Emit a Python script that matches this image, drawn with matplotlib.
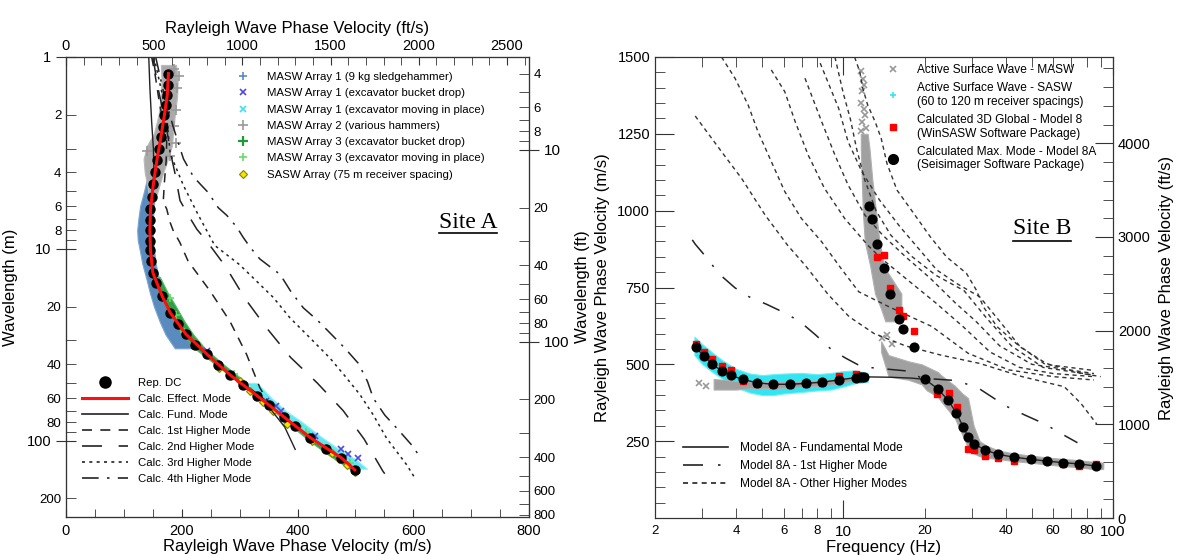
import matplotlib
matplotlib.use('Agg')
import matplotlib.pyplot as plt
from matplotlib.ticker import FixedLocator, FuncFormatter
from matplotlib.lines import Line2D

plt.rcParams['font.family'] = ['Liberation Sans', 'DejaVu Sans']

FT = 3.28084
W, H = 1186, 556

# ======================= Site A (left) data =======================
dc_lam = [1.22, 1.40, 1.58, 1.78, 2.01, 2.32, 2.61, 3.0, 3.46, 3.99, 4.59, 5.40, 6.2, 7.1, 8.0, 9.1,
          10.2, 11.6, 13.3, 15.0, 17.6, 21.5, 24.6, 27.8, 31.6, 35.3, 40.2, 45.3, 51.2, 58.2, 65, 75,
          84.3, 96.4, 110, 123, 142]
dc_vel = [177, 176, 175, 173, 170, 167, 164, 160, 157, 154, 151, 148, 146, 145, 145, 145,
          146, 147, 150, 155, 166, 180, 193, 207, 223, 243, 263, 283, 306, 330, 351, 376,
          396, 422, 450, 476, 499]

eff_lam = [1.22, 1.58, 2.01, 2.61, 3.46, 4.59, 6.2, 8.0, 10.2, 13.3, 17.6, 21.5, 27.8, 35.3, 45.3,
           58.2, 75, 96.4, 123, 142]
eff_vel = [177, 175, 170, 164, 157, 151, 146, 145, 146, 150, 166, 180, 207, 243, 283,
           330, 376, 422, 476, 499]

fund_lam = [1.0, 1.46, 2.18, 3.0, 4.0, 5.4, 7.1, 10.2, 13.3, 17.6, 24.6, 31.6, 40.2, 51.2, 58, 70, 85, 111]
fund_vel = [143, 145, 148, 151, 152, 148, 145, 146, 150, 166, 193, 223, 263, 306, 336, 356, 378, 396]

h1_lam = [1.0, 1.24, 1.78, 2.18, 2.78, 3.5, 4.5, 5.7, 6.2, 7.3, 8.0, 9.3, 11.6, 16.6, 23.8, 35.5, 53,
          65, 75, 84.3, 96.4, 110, 123, 148]
h1_vel = [148, 154, 162, 168, 174, 173, 170, 168, 174, 180, 185, 197, 211, 249, 283, 312, 335,
          352, 376, 396, 422, 450, 476, 508]

h2_lam = [1.0, 1.5, 2.2, 3.3, 4.0, 5.6, 6.5, 7.9, 9.1, 12.4, 18.1, 25.7, 36.8, 50, 69.8, 98, 145, 157]
h2_vel = [150, 160, 172, 182, 188, 197, 209, 226, 243, 276, 309, 346, 388, 434, 479, 515, 548, 557]

h3_lam = [1.0, 1.5, 2.2, 3.19, 4.68, 6.7, 9.6, 12.1, 17.9, 22.9, 29.2, 37.1, 47.2, 57.6, 73.5, 97.2, 134, 157]
h3_vel = [152, 165, 175, 180, 203, 229, 257, 300, 358, 387, 422, 456, 485, 508, 531, 554, 589, 603]

h4_lam = [1.0, 1.5, 2.3, 3.4, 4.2, 4.6, 5.1, 6.1, 6.7, 7.7, 8.7, 9.8, 11.3, 13.6, 16.6, 20.3, 23.5,
          28.0, 33.0, 39.5, 49.2, 60.1, 73.7, 87.7, 106, 116]
h4_vel = [155, 168, 185, 203, 220, 232, 246, 263, 278, 295, 306, 318, 335, 370, 388, 410, 434,
          459, 482, 505, 521, 531, 551, 574, 598, 607]

# data clouds (extent of the dense scatter)
m1_lam = [4.3, 5.0, 6.0, 7.0, 8.0, 9.0, 10.0, 12.0, 14.0, 17.0, 20.0, 24.0, 28.0, 33.0]
m1_vlo = [140, 135, 128, 125, 123, 124, 127, 132, 138, 145, 152, 162, 172, 188]
m1_vhi = [152, 153, 152, 150, 150, 150, 152, 155, 160, 170, 183, 197, 212, 230]

m2_lam = [1.1, 1.3, 1.6, 2.0, 2.5, 2.9, 3.4, 4.0, 4.6, 5.2]
m2_vlo = [164, 165, 164, 160, 152, 140, 134, 136, 140, 143]
m2_vhi = [190, 193, 192, 188, 185, 183, 176, 168, 162, 157]

m3_lam = [14, 17, 20, 24, 28, 33, 40, 48, 58, 70, 85, 100, 120, 140]
m3_vlo = [150, 162, 172, 188, 202, 222, 258, 292, 326, 358, 392, 420, 456, 490]
m3_vhi = [162, 176, 190, 205, 220, 240, 272, 305, 340, 372, 408, 438, 478, 508]

m1c_lam = [50, 60, 70, 80, 95, 110, 125, 140]
m1c_vlo = [312, 335, 360, 385, 418, 448, 476, 498]
m1c_vhi = [330, 355, 380, 408, 440, 470, 500, 520]

m1b_lam = [34, 62, 66, 70, 95, 111, 118, 123]
m1b_vel = [243, 345, 362, 372, 430, 476, 488, 505]

m3b_lam = [18, 22, 27, 45, 90, 130]
m3b_vel = [180, 190, 204, 290, 415, 490]

m2x_lam = [1.15, 1.25, 1.45, 1.9, 2.3, 2.8, 3.3, 3.1]
m2x_vel = [186, 195, 192, 190, 186, 190, 180, 140]

sasw_lam = [42, 49, 55, 63, 70, 82, 84, 100, 116, 125, 134, 146]
sasw_vel = [265, 301, 318, 340, 357, 381, 399, 425, 459, 472, 485, 499]

# ======================= Site B (right) data =======================
mm_f = [2.83, 3.04, 3.26, 3.53, 3.83, 4.23, 4.79, 5.46, 6.32, 7.26, 8.32, 9.6, 11.1, 11.5, 11.7, 11.9,
        12.4, 12.8, 13.3, 14.1, 14.9, 16.1, 16.6, 18.3,
        20.1, 22.4, 24.4, 26.2, 27.8, 29.0, 30.5, 33.6, 37.5, 42.9, 49.6, 57.1, 65.4, 74.8, 86.6]
mm_v = [555, 527, 501, 479, 464, 451, 440, 435, 435, 438, 442, 449, 457, 458, 459, 460,
        1015, 973, 893, 815, 729, 647, 614, 555,
        451, 420, 384, 343, 297, 265, 241, 221, 207, 198, 191, 185, 180, 176, 169]

g3d_f = [2.83, 3.04, 3.26, 3.53, 3.83, 4.23, 4.79, 5.46, 6.32, 7.26, 8.32, 9.6, 11.1,
         13.3, 14.1, 14.9, 16.1, 16.6, 18.3,
         22.3, 24.6, 26.3, 29.0, 30.5, 33.6, 37.3, 42.9, 65.4, 74.8, 86.6]
g3d_v = [566, 540, 516, 496, 482, 446, 435, 433, 432, 435, 440, 462, 469,
         848, 856, 749, 677, 658, 609,
         402, 408, 360, 225, 220, 203, 194, 184, 176, 169, 176]

fm_f = [2.83, 3.04, 3.26, 3.53, 3.83, 4.23, 4.79, 5.46, 6.32, 7.26, 8.32, 9.6, 11.1, 12.5, 15, 18,
        20.1, 22.4, 24.4, 26.2, 27.8, 29.0, 30.5, 33.6, 37.5, 42.9, 49.6, 57.1, 65.4, 74.8, 86.6]
fm_v = [555, 527, 501, 479, 464, 451, 440, 435, 435, 438, 442, 449, 457, 459, 458, 455,
        451, 420, 384, 343, 297, 265, 241, 221, 207, 198, 191, 185, 180, 176, 169]

hm1_f = [2.75, 2.82, 3.11, 3.46, 3.96, 4.46, 5.2, 6.1, 6.9, 7.9, 9.0, 10.2, 11.7, 14.3, 17.4, 19.5,
         26.5, 32, 36.1, 40.1, 47.1, 55.8, 63.8, 73.8]
hm1_v = [905, 891, 847, 794, 749, 720, 695, 666, 639, 595, 549, 520, 492, 485, 478, 455,
         447, 420, 390, 364, 335, 306, 276, 245]

oh_curves = [
    ([2.82, 3.53, 4.19, 5.12, 6.2, 7.2, 8.8, 10.5, 13, 17, 23, 32, 46, 66, 76, 87],
     [1308, 1192, 1105, 986, 888, 823, 726, 655, 600, 560, 530, 503, 460, 427, 373, 306]),
    ([3.53, 3.96, 4.43, 4.82, 5.4, 6.06, 6.98, 8.3, 9.8, 11.4, 14.7, 21.3, 29, 41, 60, 85],
     [1500, 1431, 1344, 1257, 1160, 1062, 975, 899, 812, 736, 688, 623, 536, 482, 460, 449]),
    ([5.4, 6.06, 6.62, 7.4, 8.5, 10.1, 12.3, 13.8, 17, 22, 28, 35, 45, 60, 85],
     [1458, 1387, 1290, 1181, 1073, 975, 888, 845, 780, 700, 620, 540, 490, 470, 460]),
    ([7.2, 8.3, 9.3, 10.4, 12.0, 14, 17, 21, 26, 31, 38, 50, 85],
     [1431, 1290, 1181, 1084, 986, 920, 850, 780, 700, 640, 560, 500, 470]),
    ([8.2, 9.6, 10.4, 11.7, 13.6, 16.2, 19.2, 22.2, 26.2, 32, 38, 45, 56, 85],
     [1480, 1333, 1225, 1127, 1035, 948, 872, 807, 764, 720, 640, 560, 500, 480]),
    ([9.3, 10, 10.6, 11.2, 12, 13.2, 15, 18, 22, 28, 34, 42, 55, 85],
     [1500, 1380, 1300, 1200, 1100, 1000, 920, 850, 790, 740, 650, 560, 490, 465]),
    ([11.0, 11.5, 11.8, 12.3, 13.1, 13.8, 14.5, 15.8, 18.2, 21.0, 24.1, 28.6, 31.1, 33.0, 37.1, 45.2,
      56.5, 75.6, 90],
     [1500, 1452, 1398, 1344, 1290, 1236, 1154, 1067, 992, 915, 850, 796, 742, 688, 623, 557,
      503, 471, 460]),
]

sasw_f = [2.8, 3.0, 3.3, 3.6, 4.0, 4.5, 5.0, 5.5, 6.0, 7.0, 8.0, 9.0, 10.0, 11.0, 12.3]
sasw_vlo = [530, 500, 472, 450, 425, 408, 400, 400, 405, 410, 415, 418, 428, 438, 443]
sasw_vhi = [590, 565, 535, 510, 485, 470, 465, 468, 470, 472, 468, 472, 478, 480, 472]

maswL_f = [3.3, 3.6, 4.0, 4.5, 5, 6, 7, 8, 9, 10, 11, 12.3]
maswL_vlo = [418, 418, 418, 422, 422, 424, 427, 430, 434, 442, 447, 450]
maswL_vhi = [452, 450, 446, 444, 444, 444, 446, 448, 452, 458, 461, 461]

maswU_v = [1250, 1200, 1100, 1000, 900, 815, 730, 680, 640]
maswU_flo = [11.6, 11.6, 11.7, 11.8, 12.0, 12.6, 13.1, 13.8, 14.3]
maswU_fhi = [12.3, 12.5, 12.8, 13.2, 13.6, 14.2, 16.4, 16.4, 16.0]

maswR_f = [13.8, 14.7, 17.4, 19.5, 20.4, 22.4, 23.0, 25.9, 27.6, 29.0, 30.4, 32, 34, 37.5, 42.9,
           49.6, 57.1, 65.4, 74.8, 86.6, 92]
maswR_vhi = [575, 530, 510, 500, 492, 475, 465, 430, 405, 390, 300, 250, 235, 220, 210,
             203, 197, 192, 188, 182, 180]
maswR_vlo = [540, 460, 450, 435, 415, 395, 380, 325, 271, 228, 210, 201, 196, 192, 185,
             180, 174, 169, 165, 158, 160]

maswX_f = [11.6, 11.8, 11.9, 11.7, 11.6, 11.9, 12.0, 11.7, 12.1, 11.6, 13.9, 14.5, 15.2, 2.9, 3.1]
maswX_v = [1455, 1430, 1410, 1390, 1350, 1330, 1310, 1290, 1270, 1260, 585, 595, 565, 440, 430]

# ======================= figure =======================
fig = plt.figure(figsize=(W / 100, H / 100), dpi=100)
spine_col = '#333333'
line_col = '#222222'


def px_axes(x0, y0, x1, y1):
    return fig.add_axes([x0 / W, 1 - y1 / H, (x1 - x0) / W, (y1 - y0) / H])


# ---------------- Left panel ----------------
axL = px_axes(66, 57, 529, 517)
axL.set_yscale('log')
axL.set_xlim(0, 800)
axL.set_ylim(250, 1)

axL.fill_betweenx(m1_lam, m1_vlo, m1_vhi, color='#5a8bbf', lw=0.8, ec='#7aa3cc', zorder=2)
axL.fill_betweenx(m2_lam, m2_vlo, m2_vhi, color='#aaaaaa', lw=0.8, ec='#bbbbbb', zorder=2)
axL.fill_betweenx(m3_lam, m3_vlo, m3_vhi, color='#2e9e47', lw=0.8, ec='#55b866', zorder=2)
axL.fill_betweenx(m1c_lam, m1c_vlo, m1c_vhi, color='#5fe8f0', lw=0.8, ec='#8ff0f5', zorder=2)
axL.plot(m2x_vel, m2x_lam, '+', color='#999999', ms=7, mew=1.2, zorder=3)
axL.plot(m1b_vel, m1b_lam, 'x', color='#4a4ae0', ms=5, mew=1.2, zorder=3)
axL.plot(m3b_vel, m3b_lam, '+', color='#66dd66', ms=6, mew=1.2, zorder=3)
axL.plot(sasw_vel, sasw_lam, 'D', color='#f2e600', mec='#8a8000', ms=4.5, mew=0.8, zorder=3)

axL.plot(fund_vel, fund_lam, '-', color=line_col, lw=1.0, zorder=4)
axL.plot(h1_vel, h1_lam, color=line_col, lw=1.1, ls=(0, (6, 5)), zorder=4)
axL.plot(h2_vel, h2_lam, color=line_col, lw=1.1, ls=(0, (12, 10)), zorder=4)
axL.plot(h3_vel, h3_lam, color=line_col, lw=1.1, ls=(0, (1.8, 2.6)), zorder=4)
axL.plot(h4_vel, h4_lam, color=line_col, lw=1.1, ls=(0, (10, 5, 1.5, 5)), zorder=4)
axL.plot(dc_vel, dc_lam, 'o', color='black', ms=6.5, zorder=5)
axL.plot(eff_vel, eff_lam, '-', color='#ff1010', lw=2.2, zorder=6)

axL.xaxis.set_major_locator(FixedLocator([0, 200, 400, 600, 800]))
axL.xaxis.set_minor_locator(FixedLocator(list(range(0, 801, 50))))
axL.yaxis.set_major_locator(FixedLocator([1, 10, 100]))
axL.yaxis.set_minor_locator(FixedLocator([2, 3, 4, 5, 6, 7, 8, 9, 20, 30, 40, 50, 60, 70, 80, 90, 200]))
axL.yaxis.set_major_formatter(FuncFormatter(lambda v, p: '%g' % v))
axL.yaxis.set_minor_formatter(FuncFormatter(
    lambda v, p: ('%g' % v) if round(v) in (2, 4, 6, 8, 20, 40, 60, 80, 200) else ''))
axL.tick_params(axis='x', which='both', direction='in', length=6, top=False, labelsize=10.5,
                color=spine_col, pad=5)
axL.tick_params(axis='y', which='major', direction='inout', length=14, right=False, labelsize=10.5,
                color=spine_col)
axL.tick_params(axis='y', which='minor', direction='in', length=7, right=False, labelsize=9.5,
                color=spine_col)
axL.set_xlabel('Rayleigh Wave Phase Velocity (m/s)', fontsize=12, labelpad=1)
axL.set_ylabel('Wavelength (m)', fontsize=12, labelpad=6)

axLt = axL.twiny()
axLt.set_xlim(0, 800 * FT)
axLt.xaxis.set_major_locator(FixedLocator([0, 500, 1000, 1500, 2000, 2500]))
axLt.xaxis.set_minor_locator(FixedLocator(list(range(0, 2601, 100))))
axLt.tick_params(axis='x', which='both', direction='in', length=6, labelsize=10.5, color=spine_col, pad=3)
axLt.set_xlabel('Rayleigh Wave Phase Velocity (ft/s)', fontsize=12, labelpad=4)

axLr = axL.twinx()
axLr.set_yscale('log')
axLr.set_ylim(250 * FT, 1 * FT)
axLr.yaxis.set_major_locator(FixedLocator([10, 100]))
axLr.yaxis.set_minor_locator(FixedLocator([4, 5, 6, 7, 8, 9, 20, 30, 40, 50, 60, 70, 80, 90,
                                           200, 300, 400, 500, 600, 700, 800]))
axLr.yaxis.set_major_formatter(FuncFormatter(lambda v, p: '%g' % v))
axLr.yaxis.set_minor_formatter(FuncFormatter(
    lambda v, p: ('%g' % v) if round(v) in (4, 6, 8, 20, 40, 60, 80, 200, 400, 600, 800) else ''))
axLr.tick_params(axis='y', which='major', direction='inout', length=14, labelsize=11, color=spine_col)
axLr.tick_params(axis='y', which='minor', direction='in', length=7, labelsize=9.5, color=spine_col)
axLr.set_ylabel('Wavelength (ft)', fontsize=12, labelpad=4)

for a in (axL, axLt, axLr):
    for s in a.spines.values():
        s.set_color(spine_col)

hA = [Line2D([], [], ls='none', marker='+', color='#5a8bbf', ms=6, mew=1.2),
      Line2D([], [], ls='none', marker='x', color='#4a4ae0', ms=5, mew=1.2),
      Line2D([], [], ls='none', marker='x', color='#40e0f0', ms=5, mew=1.2),
      Line2D([], [], ls='none', marker='+', color='#999999', ms=7, mew=1.2),
      Line2D([], [], ls='none', marker='+', color='#1f9a3a', ms=7, mew=1.6),
      Line2D([], [], ls='none', marker='+', color='#66dd66', ms=6, mew=1.2),
      Line2D([], [], ls='none', marker='D', color='#f2e600', mec='#8a8000', ms=4.5, mew=0.8)]
lA = ['MASW Array 1 (9 kg sledgehammer)', 'MASW Array 1 (excavator bucket drop)',
      'MASW Array 1 (excavator moving in place)', 'MASW Array 2 (various hammers)',
      'MASW Array 3 (excavator bucket drop)', 'MASW Array 3 (excavator moving in place)',
      'SASW Array (75 m receiver spacing)']
legA = axL.legend(hA, lA, loc='upper left', bbox_to_anchor=(237 / W, 1 - 72 / H),
                  bbox_transform=fig.transFigure, frameon=False, fontsize=8.2, borderpad=0,
                  borderaxespad=0, handlelength=1.0, handletextpad=1.6, labelspacing=0.55)
axL.add_artist(legA)

hA2 = [Line2D([], [], ls='none', marker='o', color='black', ms=8),
       Line2D([], [], color='#ff1010', lw=2.2),
       Line2D([], [], color=line_col, lw=1.2),
       Line2D([], [], color=line_col, lw=1.2, ls=(0, (6, 5))),
       Line2D([], [], color=line_col, lw=1.2, ls=(0, (12, 10))),
       Line2D([], [], color=line_col, lw=1.2, ls=(0, (1.8, 2.6))),
       Line2D([], [], color=line_col, lw=1.2, ls=(0, (10, 5, 1.5, 5)))]
lA2 = ['Rep. DC', 'Calc. Effect. Mode', 'Calc. Fund. Mode', 'Calc. 1st Higher Mode',
       'Calc. 2nd Higher Mode', 'Calc. 3rd Higher Mode', 'Calc. 4th Higher Mode']
axL.legend(hA2, lA2, loc='upper left', bbox_to_anchor=(82 / W, 1 - 378 / H),
           bbox_transform=fig.transFigure, frameon=False, fontsize=8.2, borderpad=0,
           borderaxespad=0, handlelength=4.0, handletextpad=0.9, labelspacing=0.52)

tA = fig.text(468 / W, 1 - 222 / H, 'Site A', family=['Liberation Serif', 'DejaVu Serif'],
              fontsize=17, ha='center', va='center')

# ---------------- Right panel ----------------
axR = px_axes(655, 57, 1113, 518)
axR.set_xscale('log')
axR.set_xlim(2, 100)
axR.set_ylim(0, 1500)

axR.fill_between(sasw_f, sasw_vlo, sasw_vhi, color='#33e5f0', lw=0.8, ec='#70eef5', zorder=2)
axR.fill_between(maswL_f, maswL_vlo, maswL_vhi, color='#a0a0a0', lw=0.8, ec='#b0b0b0', zorder=2.5)
axR.fill_betweenx(maswU_v, maswU_flo, maswU_fhi, color='#a0a0a0', lw=0.8, ec='#b0b0b0', zorder=2.5)
axR.fill_between(maswR_f, maswR_vlo, maswR_vhi, color='#a0a0a0', lw=0.8, ec='#b0b0b0', zorder=2.5)
axR.plot(maswX_f, maswX_v, 'x', color='#999999', ms=5, mew=1.2, zorder=2.5)

for fx, vx in oh_curves:
    axR.plot(fx, vx, color='#333333', lw=1.0, ls=(0, (3, 2.6)), zorder=3)
axR.plot(hm1_f, hm1_v, color=line_col, lw=1.1, ls=(0, (12, 9, 1.5, 9)), zorder=3)
axR.plot(fm_f, fm_v, '-', color=line_col, lw=1.0, zorder=4)
axR.plot(g3d_f, g3d_v, 's', color='#ff0000', ms=5, zorder=5)
axR.plot(mm_f, mm_v, 'o', color='black', ms=6.3, zorder=6)

axR.xaxis.set_major_locator(FixedLocator([10, 100]))
axR.xaxis.set_minor_locator(FixedLocator([2, 3, 4, 5, 6, 7, 8, 9, 20, 30, 40, 50, 60, 70, 80, 90]))
axR.xaxis.set_major_formatter(FuncFormatter(lambda v, p: '%g' % v))
axR.xaxis.set_minor_formatter(FuncFormatter(
    lambda v, p: ('%g' % v) if round(v) in (2, 4, 6, 8, 20, 40, 60, 80) else ''))
axR.tick_params(axis='x', which='major', direction='in', length=13, top=True, labelsize=11,
                color=spine_col, pad=5)
axR.tick_params(axis='x', which='minor', direction='in', length=7, top=True, labelsize=9.5,
                color=spine_col, pad=5)
axR.yaxis.set_major_locator(FixedLocator([250, 500, 750, 1000, 1250, 1500]))
axR.yaxis.set_minor_locator(FixedLocator(list(range(0, 1501, 50))))
axR.tick_params(axis='y', which='major', direction='in', length=14, right=False, labelsize=10.5,
                color=spine_col)
axR.tick_params(axis='y', which='minor', direction='in', length=7, right=False, color=spine_col)
axR.set_xlabel('Frequency (Hz)', fontsize=12, labelpad=1)
axR.set_ylabel('Rayleigh Wave Phase Velocity (m/s)', fontsize=12, labelpad=5)

axRr = axR.twinx()
axRr.set_ylim(0, 1500 * FT)
axRr.yaxis.set_major_locator(FixedLocator([0, 1000, 2000, 3000, 4000]))
axRr.yaxis.set_minor_locator(FixedLocator(list(range(0, 4901, 200))))
axRr.tick_params(axis='y', which='major', direction='in', length=13, labelsize=10.5, color=spine_col)
axRr.tick_params(axis='y', which='minor', direction='in', length=7, color=spine_col)
axRr.set_ylabel('Rayleigh Wave Phase Velocity (ft/s)', fontsize=12, labelpad=6)

for a in (axR, axRr):
    for s in a.spines.values():
        s.set_color(spine_col)

hB = [Line2D([], [], ls='none', marker='x', color='#999999', ms=5, mew=1.2),
      Line2D([], [], ls='none', marker='+', color='#33e5f0', ms=5, mew=1.2),
      Line2D([], [], ls='none', marker='s', color='#ff0000', ms=5),
      Line2D([], [], ls='none', marker='o', color='black', ms=7)]
lB = ['Active Surface Wave - MASW',
      'Active Surface Wave - SASW\n(60 to 120 m receiver spacings)',
      'Calculated 3D Global - Model 8\n(WinSASW Software Package)',
      'Calculated Max. Mode - Model 8A\n(Seisimager Software Package)']
legB = axR.legend(hB, lB, loc='upper left', bbox_to_anchor=(887 / W, 1 - 64 / H),
                  bbox_transform=fig.transFigure, frameon=False, fontsize=8.6, borderpad=0,
                  borderaxespad=0, handlelength=1.0, handletextpad=1.5, labelspacing=0.5)
axR.add_artist(legB)

hB2 = [Line2D([], [], color=line_col, lw=1.2),
       Line2D([], [], color=line_col, lw=1.2, ls=(0, (12, 9, 1.5, 9))),
       Line2D([], [], color=line_col, lw=1.2, ls=(0, (3, 2.6)))]
lB2 = ['Model 8A - Fundamental Mode', 'Model 8A - 1st Higher Mode', 'Model 8A - Other Higher Modes']
axR.legend(hB2, lB2, loc='upper left', bbox_to_anchor=(683 / W, 1 - 442 / H),
           bbox_transform=fig.transFigure, frameon=False, fontsize=8.6, borderpad=0,
           borderaxespad=0, handlelength=3.8, handletextpad=1.0, labelspacing=0.5)

tB = fig.text(1042 / W, 1 - 229 / H, 'Site B', family=['Liberation Serif', 'DejaVu Serif'],
              fontsize=17, ha='center', va='center')

# underline the site labels
fig.canvas.draw()
inv = fig.transFigure.inverted()
for t in (tA, tB):
    bb = t.get_window_extent()
    (x0, y0), (x1, y1) = inv.transform([(bb.x0, bb.y0), (bb.x1, bb.y0)])
    fig.add_artist(Line2D([x0, x1], [y0 - 1.0 / H, y1 - 1.0 / H], transform=fig.transFigure,
                          color='black', lw=1.2))

fig.savefig('out.png', dpi=100)
